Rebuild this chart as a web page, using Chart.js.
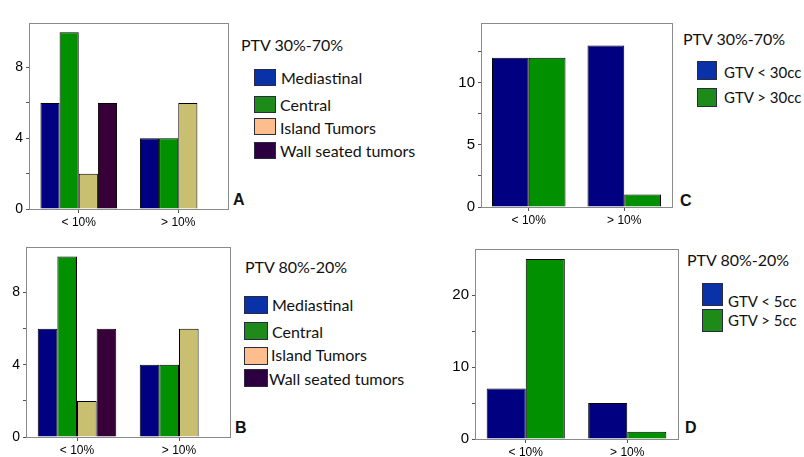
<!DOCTYPE html>
<html>
<head>
<meta charset="utf-8">
<script src="https://cdn.jsdelivr.net/npm/chart.js@4.4.1/dist/chart.umd.min.js"></script>
<style>
  body { margin: 0; background: #fff; width: 804px; height: 457px; position: relative; overflow: hidden; font-family: Lato, sans-serif; }
  canvas { position: absolute; }
  .t { position: absolute; font-size: 16px; color: #111; white-space: nowrap; line-height: 16px; }
  .s { font-size: 15px; }
  .sw { position: absolute; border: 1px solid #2a2a40; box-sizing: border-box; }
  .lt { position: absolute; font: bold 16px "Liberation Sans", Arial, sans-serif; color: #111; line-height: 16px; }
</style>
</head>
<body>
<script>
// categories shared by all four panels
const categories = ['< 10%', '> 10%'];

// A / B: tumour location
const locationNames = ['Mediastinal', 'Central', 'Island Tumors', 'Wall seated tumors'];
const aMediastinal = [6, 4];
const aCentral = [10, 4];
const aIsland = [2, 6];
const aWall = [6, null];
const bMediastinal = [6, 4];
const bCentral = [10, 4];
const bIsland = [2, 6];
const bWall = [6, null];

// C / D: GTV size
const cNames = ['GTV < 30cc', 'GTV > 30cc'];
const cSmall = [12, 13];
const cLarge = [12, 1];
const dNames = ['GTV < 5cc', 'GTV > 5cc'];
const dSmall = [7, 5];
const dLarge = [25, 1];

const barColors = ['#000080', '#009000', '#c8bf70', '#380038'];
const legendColors = ['#0a32a8', '#1e8a1a', '#fdbd8c', '#2c0040'];

const frame = {
  id: 'frame',
  afterDraw(chart) {
    const a = chart.chartArea, c = chart.ctx;
    c.save();
    c.strokeStyle = '#8a8a8a';
    c.lineWidth = 1;
    c.strokeRect(Math.round(a.left) + 0.5, Math.round(a.top) + 0.5, Math.round(a.right - a.left), Math.round(a.bottom - a.top));
    c.restore();
  }
};

function panel(box, series, yMax, step, labelEvery, tickSize) {
  const cv = document.createElement('canvas');
  const W = box.r - box.l + 34, H = box.b - box.t + 26;
  cv.width = W; cv.height = H;
  cv.style.left = (box.l - 32) + 'px';
  cv.style.top = (box.t - 2) + 'px';
  document.body.appendChild(cv);
  new Chart(cv, {
    type: 'bar',
    data: {
      labels: categories,
      datasets: series.map((d, i) => ({
        data: d,
        backgroundColor: barColors[i],
        borderColor: '#000',
        borderWidth: 1,
        categoryPercentage: 0.77,
        barPercentage: 1
      }))
    },
    options: {
      responsive: false,
      animation: false,
      layout: { padding: { top: 2, right: 2, left: 0, bottom: 0 } },
      plugins: { legend: { display: false }, tooltip: { enabled: false } },
      scales: {
        x: {
          grid: { offset: false, drawOnChartArea: false, tickLength: 4, color: '#555' },
          border: { color: '#555' },
          ticks: { font: { family: 'Liberation Sans', size: 12 }, color: '#000', padding: 2 },
          afterFit: s => { s.height = 24; }
        },
        y: {
          min: 0,
          max: yMax,
          grid: { drawOnChartArea: false, tickLength: 3, color: '#555' },
          border: { color: '#555' },
          ticks: {
            stepSize: step,
            font: { family: 'Liberation Sans', size: tickSize },
            color: '#000',
            padding: 3,
            callback: v => (v % labelEvery === 0 ? v : '')
          },
          afterBuildTicks: s => { s.ticks = s.ticks.filter(t => Math.abs(t.value / step - Math.round(t.value / step)) < 1e-6); },
          afterFit: s => { s.width = 32; }
        }
      }
    },
    plugins: [frame]
  });
}

function text(cls, str, x, cy) {
  const d = document.createElement('div');
  d.className = cls;
  d.textContent = str;
  d.style.left = x + 'px';
  d.style.top = (cy - 8) + 'px';
  document.body.appendChild(d);
}

function legend(title, names, colors, tx, ty, sx, sw, sh, ys, lx, ly, cls) {
  text('t', title, tx, ty);
  names.forEach((n, i) => {
    const s = document.createElement('div');
    s.className = 'sw';
    s.style.left = sx + 'px'; s.style.top = ys[i] + 'px';
    s.style.width = sw + 'px'; s.style.height = sh + 'px';
    s.style.background = colors[i];
    document.body.appendChild(s);
    text(cls, n, lx[i], ly[i]);
  });
}

panel({ l: 29, r: 228, t: 14, b: 209 }, [aMediastinal, aCentral, aIsland, aWall], 10.5, 2, 4, 14);
panel({ l: 26, r: 230, t: 238, b: 437 }, [bMediastinal, bCentral, bIsland, bWall], 10.5, 2, 4, 14);
panel({ l: 481, r: 672, t: 13, b: 207 }, [cSmall, cLarge], 14.8, 2.5, 5, 15);
panel({ l: 475, r: 678, t: 239, b: 439 }, [dSmall, dLarge], 26.4, 5, 10, 15);

legend('PTV 30%-70%', locationNames, legendColors, 241, 45, 254, 22, 17, [69, 96, 118, 142], [281, 280, 280, 280], [78, 105, 128, 151], 't');
legend('PTV 80%-20%', locationNames, legendColors, 245, 267, 244, 24, 18, [296, 322, 347, 369], [272, 272, 271, 269], [305, 332, 355, 379], 't');
legend('PTV 30%-70%', cNames, legendColors, 683, 39, 697, 20, 19, [61, 88], [724, 724], [72, 97], 't s');
legend('PTV 80%-20%', dNames, legendColors, 687, 260, 702, 21, 23, [283, 309], [728, 728], [301, 320], 't s');

text('lt', 'A', 233, 200);
text('lt', 'B', 235, 428);
text('lt', 'C', 680, 201);
text('lt', 'D', 685, 428);
</script>
</body>
</html>
